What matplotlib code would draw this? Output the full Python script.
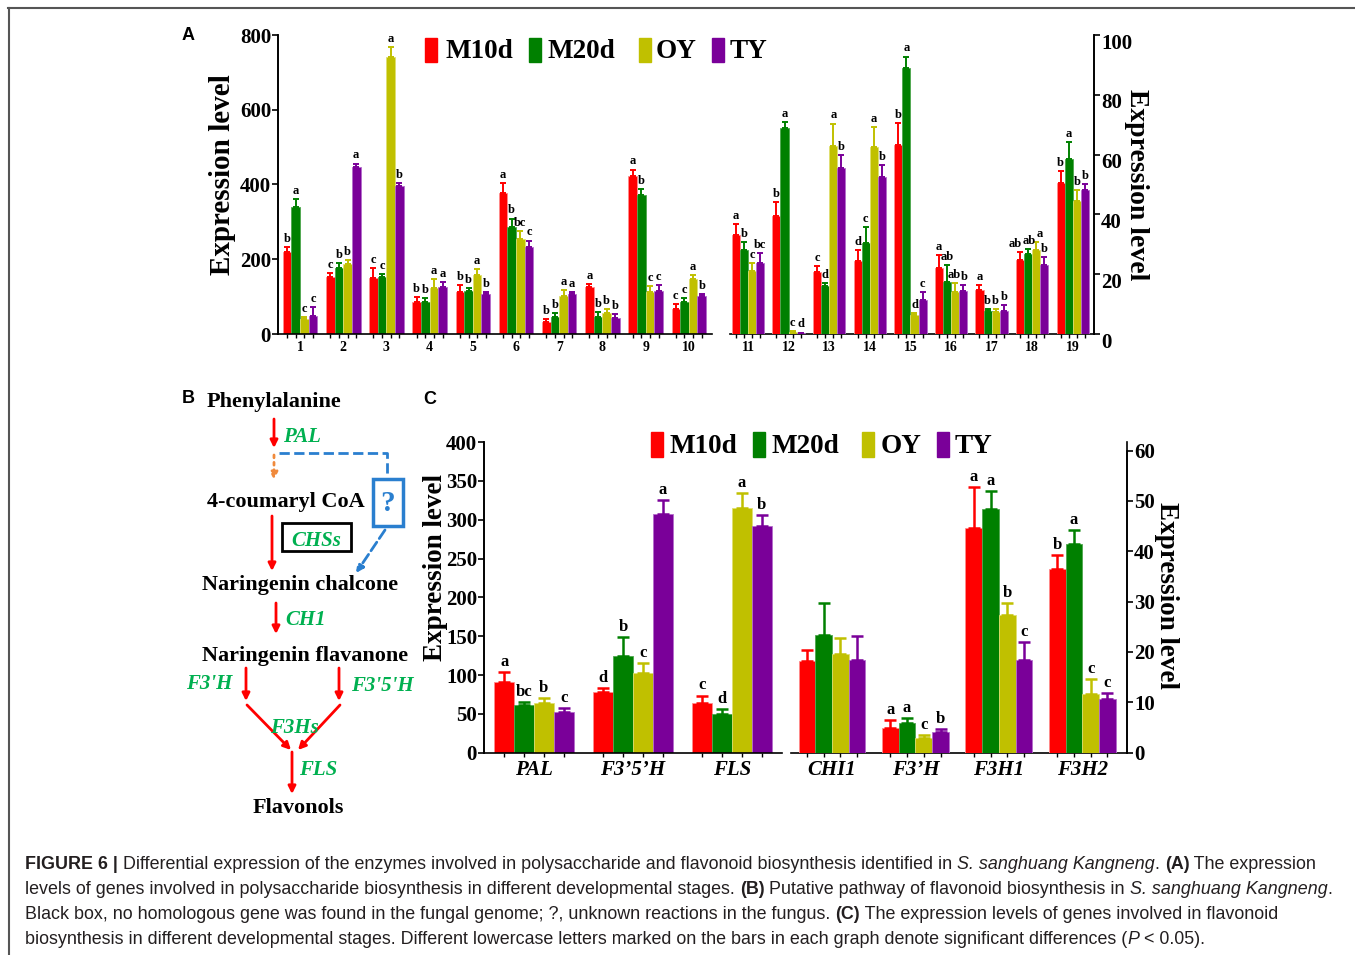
import numpy as np
import matplotlib
matplotlib.use('Agg')
import matplotlib.pyplot as plt
import matplotlib.transforms as mtransforms
from matplotlib.patches import Rectangle

plt.rcParams['font.family'] = ['Liberation Serif', 'DejaVu Serif']
plt.rcParams['font.weight'] = 'bold'
plt.rcParams['axes.linewidth'] = 1.2

W, H = 1355, 955

# ---------------- data ----------------
stages = ['M10d', 'M20d', 'OY', 'TY']
colors = ['#ff0000', '#008000', '#c0c000', '#7a0099']
edges = ['#ff8c8c', '#4da64d', '#e0e070', '#b46ccc']

# panel A, genes 1-10 (left axis)
genes_a1 = ['1', '2', '3', '4', '5', '6', '7', '8', '9', '10']
expr_a1 = np.array([[220, 340, 41, 48], [153, 177, 187, 447], [151, 152, 742, 397],
                    [86, 85, 122, 127], [113, 114, 158, 106], [376, 285, 255, 233],
                    [33, 45, 103, 108], [127, 46, 57, 43], [423, 373, 112, 116],
                    [68, 86, 147, 102]])
sd_a1 = np.array([[13, 20, 5, 23], [11, 12, 11, 9], [25, 8, 26, 6], [12, 10, 26, 11],
                  [19, 8, 16, 6], [27, 24, 21, 17], [7, 10, 14, 5], [7, 12, 11, 10],
                  [17, 16, 17, 14], [11, 10, 10, 6]])
sig_a1 = [['b', 'a', 'c', 'c'], ['c', 'b', 'b', 'a'], ['c', 'c', 'a', 'b'], ['b', 'b', 'a', 'a'],
          ['b', 'b', 'a', 'b'], ['a', 'b', 'bc', 'c'], ['b', 'b', 'a', 'a'], ['a', 'b', 'b', 'b'],
          ['a', 'b', 'c', 'c'], ['c', 'c', 'a', 'b']]

# panel A, genes 11-19 (right axis)
genes_a2 = ['11', '12', '13', '14', '15', '16', '17', '18', '19']
expr_a2 = np.array([[33.2, 28.0, 21.0, 23.9], [39.4, 69.0, 0.8, 0.3], [20.7, 16.1, 62.9, 55.4],
                    [24.3, 30.4, 62.5, 52.6], [63.2, 88.9, 6.4, 11.4], [22.0, 17.3, 14.2, 14.5],
                    [14.8, 7.8, 7.5, 7.7], [24.8, 26.8, 28.2, 23.2], [50.6, 58.4, 44.6, 48.3]])
sd_a2 = np.array([[3.6, 2.8, 2.7, 3.1], [4.8, 1.9, 0.3, 0.2], [1.9, 0.8, 7.5, 4.6],
                  [3.7, 5.4, 6.6, 3.8], [7.4, 3.9, 0.5, 2.5], [4.5, 5.7, 2.8, 1.9],
                  [1.6, 0.7, 1.0, 1.9], [2.6, 1.7, 2.6, 2.4], [3.9, 5.8, 3.6, 1.7]])
sig_a2 = [['a', 'b', 'c', 'bc'], ['b', 'a', 'c', 'd'], ['c', 'd', 'a', 'b'], ['d', 'c', 'a', 'b'],
          ['b', 'a', 'd', 'c'], ['a', 'ab', 'ab', 'b'], ['a', 'b', 'b', 'b'], ['ab', 'ab', 'a', 'b'],
          ['b', 'a', 'b', 'b']]

# panel C, left axis genes
genes_c1 = ['PAL', 'F3’5’H', 'FLS']
expr_c1 = np.array([[90.8, 61.5, 63.7, 53.0], [78.7, 124.4, 102.0, 306.7], [64.1, 50.3, 314.5, 292.0]])
sd_c1 = np.array([[13, 4, 7, 4], [5, 24, 13, 18.5], [9.5, 5.7, 20, 13.4]])
sig_c1 = [['a', 'bc', 'b', 'c'], ['d', 'b', 'c', 'a'], ['c', 'd', 'a', 'b']]

# panel C, right axis genes
genes_c2 = ['CHI1', 'F3’H', 'F3H1', 'F3H2']
expr_c2 = np.array([[18.3, 23.4, 19.6, 18.5], [5.0, 5.8, 3.0, 4.1], [44.7, 48.4, 27.4, 18.4],
                    [36.5, 41.4, 11.6, 10.7]])
sd_c2 = np.array([[2.0, 6.4, 3.1, 4.6], [1.4, 1.0, 0.5, 0.6], [8.0, 3.6, 2.4, 3.5], [2.7, 2.8, 3.0, 1.1]])
sig_c2 = [['', '', '', ''], ['a', 'a', 'c', 'b'], ['a', 'a', 'b', 'c'], ['b', 'a', 'c', 'c']]

fig = plt.figure(figsize=(W / 100, H / 100), dpi=100)


def box(l, t, r, b):
    return [l / W, 1 - b / H, (r - l) / W, (b - t) / H]


def draw_group(ax, xc, w, vals, sds, sigs, capsize, elw, fs):
    n = len(xc)
    for k in range(4):
        xs = xc + (k - 1.5) * w
        ax.bar(xs, vals[:, k], w, color=colors[k], edgecolor=edges[k], linewidth=0.6, zorder=2)
        ax.errorbar(xs, vals[:, k], yerr=[np.zeros(n), sds[:, k]], fmt='none', ecolor=colors[k],
                    elinewidth=elw, capsize=capsize, capthick=elw, zorder=3)
    # significance letters, nudged sideways where neighbours would collide
    cw = fs * 100 / 72 * 0.52
    hgt = fs * 100 / 72 * 0.72
    for i in range(n):
        xs = xc[i] + (np.arange(4) - 1.5) * w
        tops = vals[i] + sds[i]
        pts = ax.transData.transform(np.column_stack([xs, tops]))
        px = pts[:, 0].copy()
        labs = sigs[i]
        for _ in range(6):
            for k in range(3):
                if not labs[k] or not labs[k + 1] or abs(pts[k, 1] - pts[k + 1, 1]) > hgt:
                    continue
                o = (px[k] + cw * len(labs[k]) / 2 + 1) - (px[k + 1] - cw * len(labs[k + 1]) / 2)
                if o > 0:
                    px[k] -= o / 2
                    px[k + 1] += o / 2
        for k in range(4):
            if labs[k]:
                ax.annotate(labs[k], (xs[k], tops[k]), xytext=((px[k] - pts[k, 0]) * 0.72, 1.5),
                            textcoords='offset points', ha='center', va='bottom', fontsize=fs)
    return [x + (k - 1.5) * w for x in xc for k in range(4)]


def style_axes(ax, ax2, segs, ticks_x, labels_x, xfs, xstyle, minor, ylab_fs):
    ax.spines['top'].set_visible(False)
    ax2.spines['top'].set_visible(False)
    ax.spines['bottom'].set_visible(False)
    ax2.spines['bottom'].set_visible(False)
    for a, b in segs:
        ax.plot([a, b], [0, 0], color='black', lw=1.2, transform=ax.get_xaxis_transform(),
                clip_on=False, zorder=4)
    ax.set_xticks(ticks_x)
    ax.set_xticklabels(labels_x, fontsize=xfs, style=xstyle)
    ax.set_xticks(minor, minor=True)
    ax.tick_params(axis='x', which='major', length=0, pad=5)
    ax.tick_params(axis='x', which='minor', length=3, width=1, direction='out')
    ax.tick_params(axis='y', labelsize=ylab_fs, length=4, width=1.2, pad=1)
    ax2.tick_params(axis='y', labelsize=ylab_fs, length=4, width=1.2, pad=1)
    ax.set_facecolor('none')


# ---------------- panel A ----------------
axA = fig.add_axes(box(278, 35, 1094, 334))
axA2 = axA.twinx()
for a in (axA, axA2):
    a.set_xlim(-0.51, 18.38)
axA.set_ylim(0, 800)
axA2.set_ylim(0, 100)
xa1 = np.arange(len(genes_a1), dtype=float)
xa2 = 10.37 + 0.94 * np.arange(len(genes_a2))
m1 = draw_group(axA, xa1, 0.2, expr_a1, sd_a1, sig_a1, 2.2, 1.4, 9)
m2 = draw_group(axA2, xa2, 0.188, expr_a2, sd_a2, sig_a2, 2.2, 1.4, 9)
axA.set_yticks(np.arange(0, 801, 200))
axA2.set_yticks(np.arange(0, 101, 20))
style_axes(axA, axA2, [(-0.51, 9.54), (9.95, 18.38)],
           np.concatenate([xa1, xa2]), genes_a1 + genes_a2, 10, 'normal', m1 + m2, 15)
# right-hand tick labels sit a little lower in the original
shift = mtransforms.ScaledTranslation(0, -0.06, fig.dpi_scale_trans)
for lab in axA2.get_yticklabels():
    lab.set_transform(lab.get_transform() + shift)

# ---------------- panel C ----------------
axC = fig.add_axes(box(484, 442, 1127, 752.7))
axC2 = axC.twinx()
for a in (axC, axC2):
    a.set_xlim(-0.505, 5.99)
axC.set_ylim(0, 400)
axC2.set_ylim(0, 61.7)
xc1 = np.arange(len(genes_c1), dtype=float)
xc2 = 3.01 + 0.843 * np.arange(len(genes_c2))
n1 = draw_group(axC, xc1, 0.2, expr_c1, sd_c1, sig_c1, 4.5, 1.8, 12)
n2 = draw_group(axC2, xc2, 0.169, expr_c2, sd_c2, sig_c2, 4.5, 1.8, 12)
axC.set_yticks(np.arange(0, 401, 50))
axC2.set_yticks(np.arange(0, 61, 10))
axC2.spines['right'].set_bounds(0, 60)
style_axes(axC, axC2, [(-0.505, 2.505), (2.596, 5.99)],
           np.concatenate([xc1, xc2]), genes_c1 + genes_c2, 15, 'italic', n1 + n2, 15)

# ---------------- overlay (labels, legend, panel B, caption) ----------------
ov = fig.add_axes([0, 0, 1, 1], zorder=10)
ov.set_xlim(0, W)
ov.set_ylim(H, 0)
ov.axis('off')
ov.patch.set_alpha(0)

# axis titles
ov.text(222, 175, 'Expression level', rotation=90, ha='center', va='center', fontsize=21)
ov.text(1137, 185, 'Expression level', rotation=270, ha='center', va='center', fontsize=20)
ov.text(435, 567, 'Expression level', rotation=90, ha='center', va='center', fontsize=19.5)
ov.text(1167, 595, 'Expression level', rotation=270, ha='center', va='center', fontsize=19.5)

# legends
for rx, tx, lab, c in zip([425, 529, 639, 712], [445, 548, 656, 730], stages, colors):
    ov.add_patch(Rectangle((rx, 38), 12, 24, color=c))
    ov.text(tx, 51, lab, ha='left', va='center', fontsize=19.5)
for rx, tx, lab, c in zip([651, 753, 862, 937], [669, 772, 881, 955], stages, colors):
    ov.add_patch(Rectangle((rx, 432), 12, 25, color=c))
    ov.text(tx, 446, lab, ha='left', va='center', fontsize=19.5)

# panel letters
for x, y, s in [(188, 36, 'A'), (188, 398, 'B'), (430, 399, 'C')]:
    ov.text(x, y, s, ha='center', va='center', fontsize=13, family='Liberation Sans')

# panel B pathway
green = '#00b050'
blue = '#2a7fcf'


def arrow(x1, y1, x2, y2, color='red', ls='-'):
    ov.annotate('', xy=(x2, y2), xytext=(x1, y1),
                arrowprops=dict(arrowstyle='-|>', color=color, lw=2, linestyle=ls,
                                mutation_scale=11, shrinkA=0, shrinkB=0))


ov.text(207, 402, 'Phenylalanine', ha='left', va='center', fontsize=16)
arrow(274, 419, 274, 448)
ov.text(283, 437, 'PAL', ha='left', va='center', fontsize=15, style='italic', color=green)
arrow(274, 455, 274, 480, color='#f08a3c', ls=':')
ov.plot([279, 387, 387], [453, 453, 479], color=blue, lw=2, ls='--')
ov.add_patch(Rectangle((373, 479), 30, 47, fill=False, edgecolor=blue, lw=2.5))
ov.text(388, 503, '?', ha='center', va='center', fontsize=21, color=blue)
arrow(385, 530, 356, 573, color=blue, ls='--')
ov.text(207, 502, '4-coumaryl CoA', ha='left', va='center', fontsize=16)
arrow(272, 516, 272, 571)
ov.add_patch(Rectangle((282, 523), 69, 28, fill=False, edgecolor='black', lw=2))
ov.text(316, 541, 'CHSs', ha='center', va='center', fontsize=15, style='italic', color=green)
ov.text(300, 585, 'Naringenin chalcone', ha='center', va='center', fontsize=16)
arrow(276, 603, 276, 634)
ov.text(285, 620, 'CH1', ha='left', va='center', fontsize=15, style='italic', color=green)
ov.text(305, 656, 'Naringenin flavanone', ha='center', va='center', fontsize=16)
ov.text(209, 684, "F3'H", ha='center', va='center', fontsize=15, style='italic', color=green)
ov.text(382, 686, "F3'5'H", ha='center', va='center', fontsize=15, style='italic', color=green)
arrow(246, 668, 246, 701)
arrow(339, 668, 339, 701)
arrow(247, 705, 291, 750)
arrow(340, 705, 298, 750)
ov.text(294, 728, 'F3Hs', ha='center', va='center', fontsize=15, style='italic', color=green,
        zorder=5)
arrow(292, 752, 292, 794)
ov.text(299, 770, 'FLS', ha='left', va='center', fontsize=15, style='italic', color=green)
ov.text(298, 808, 'Flavonols', ha='center', va='center', fontsize=16)

# frame
ov.plot([8, W], [8.5, 8.5], color='#555555', lw=1.5, clip_on=False)
ov.plot([8.5, 8.5], [8, H], color='#555555', lw=1.5, clip_on=False)

# caption
renderer = fig.canvas.get_renderer()
cap_fs = 12.85


def piece_width(s, **kw):
    t1 = ov.text(0, 0, '|' + s + '|', **kw)
    t2 = ov.text(0, 0, '||', **kw)
    w = t1.get_window_extent(renderer).width - t2.get_window_extent(renderer).width
    t1.remove()
    t2.remove()
    return w


caption = [
    [('FIGURE 6 | ', 'bold', 'normal'),
     ('Differential expression of the enzymes involved in polysaccharide and flavonoid biosynthesis identified in ', 'normal', 'normal'),
     ('S. sanghuang Kangneng', 'normal', 'italic'), ('. ', 'normal', 'normal'), ('(A)', 'bold', 'normal'),
     (' The expression', 'normal', 'normal')],
    [('levels of genes involved in polysaccharide biosynthesis in different developmental stages. ', 'normal', 'normal'),
     ('(B)', 'bold', 'normal'), (' Putative pathway of flavonoid biosynthesis in ', 'normal', 'normal'),
     ('S. sanghuang Kangneng', 'normal', 'italic'), ('.', 'normal', 'normal')],
    [('Black box, no homologous gene was found in the fungal genome; ?, unknown reactions in the fungus. ', 'normal', 'normal'),
     ('(C)', 'bold', 'normal'), (' The expression levels of genes involved in flavonoid', 'normal', 'normal')],
    [('biosynthesis in different developmental stages. Different lowercase letters marked on the bars in each graph denote significant differences (', 'normal', 'normal'),
     ('P', 'normal', 'italic'), (' < 0.05).', 'normal', 'normal')],
]
for li, line in enumerate(caption):
    x = 25
    y = 869 + 25 * li
    for s, wt, st in line:
        kw = dict(fontsize=cap_fs, family='Liberation Sans', weight=wt, style=st, color='#231f20',
                  ha='left', va='baseline')
        ov.text(x, y, s, **kw)
        x += piece_width(s, **kw)

fig.savefig('out.png', dpi=100, facecolor='white')
